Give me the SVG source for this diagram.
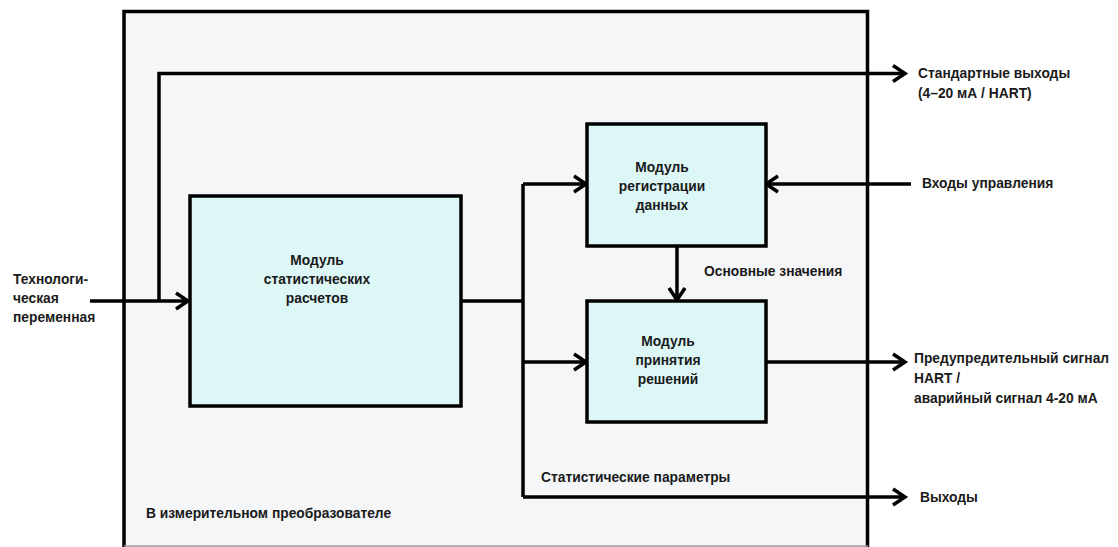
<svg xmlns="http://www.w3.org/2000/svg" width="1118" height="547" viewBox="0 0 1118 547">
<defs>
<style>
text{font-family:"Liberation Sans",Arial,sans-serif;font-weight:bold;font-size:13.8px;fill:#1a1a1a}
.node rect{fill:#ddf7f7;stroke:#000;stroke-width:3.5}
.c{fill:none;stroke:#000;stroke-width:3.5}
.mid{text-anchor:middle}
</style>
<marker id="ah" markerUnits="userSpaceOnUse" viewBox="0 0 16 20" refX="14" refY="10" markerWidth="16" markerHeight="20" orient="auto" overflow="visible">
<path d="M2,2 L14,10 L2,18" fill="none" stroke="#000" stroke-width="3.5"/>
</marker>
</defs>
<rect width="1118" height="547" fill="#ffffff"/>
<g id="transmitter">
<rect x="124" y="11.5" width="743.5" height="560" fill="#f4f6f8" stroke="#000" stroke-width="3.5"/>
<line x1="124" y1="546" x2="868" y2="546" stroke="#9a9a9a" stroke-width="1.5"/>
<text x="146" y="518">В измерительном преобразователе</text>
</g>
<g id="connectors">
<path class="c" d="M90,301 H188" marker-end="url(#ah)"/>
<path class="c" d="M159,301 V73.5 H905" marker-end="url(#ah)"/>
<path class="c" d="M461,301 H523"/>
<path class="c" d="M523,184 V497"/>
<path class="c" d="M523,184 H586" marker-end="url(#ah)"/>
<path class="c" d="M523,362 H586" marker-end="url(#ah)"/>
<path class="c" d="M523,497 H905" marker-end="url(#ah)"/>
<path class="c" d="M911,184 H766" marker-end="url(#ah)"/>
<path class="c" d="M677,246 V300" marker-end="url(#ah)"/>
<path class="c" d="M766,362 H905" marker-end="url(#ah)"/>
</g>
<g id="stats" class="node">
<rect x="190" y="196" width="271" height="210"/>
<text class="mid" x="317" y="265">Модуль</text>
<text class="mid" x="317" y="284">статистических</text>
<text class="mid" x="317" y="303">расчетов</text>
</g>
<g id="registration" class="node">
<rect x="587" y="124" width="179" height="122"/>
<text class="mid" x="662" y="172">Модуль</text>
<text class="mid" x="662" y="191">регистрации</text>
<text class="mid" x="662" y="210">данных</text>
</g>
<g id="decision" class="node">
<rect x="587" y="301" width="179" height="121"/>
<text class="mid" x="668" y="346">Модуль</text>
<text class="mid" x="668" y="365">принятия</text>
<text class="mid" x="668" y="384">решений</text>
</g>
<g id="labels">
<text x="13" y="284">Технологи-</text>
<text x="13" y="303">ческая</text>
<text x="13" y="322">переменная</text>
<text x="918" y="78">Стандартные выходы</text>
<text x="918" y="98">(4–20 мА / HART)</text>
<text x="922" y="188">Входы управления</text>
<text x="704" y="276">Основные значения</text>
<text x="914" y="363">Предупредительный сигнал</text>
<text x="914" y="383">HART /</text>
<text x="914" y="403">аварийный сигнал 4-20 мА</text>
<text x="541" y="482">Статистические параметры</text>
<text x="920" y="502">Выходы</text>
</g>
</svg>
